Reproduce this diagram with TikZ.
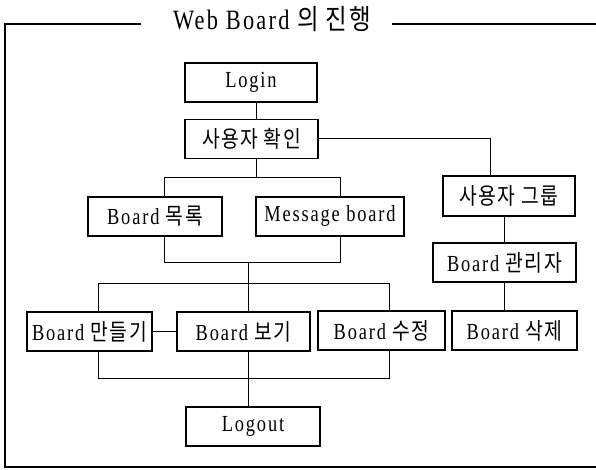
\documentclass[tikz,border=0pt]{standalone}
\usepackage{fontspec}
\setmainfont{Liberation Serif}[FakeStretch=0.8, LetterSpace=8]
\newfontfamily\krfont{Noto Sans CJK KR}[FakeStretch=0.84, LetterSpace=6]
\newcommand\ko[1]{{\krfont #1}}
\usetikzlibrary{calc}
\begin{document}
\begin{tikzpicture}[x=1pt,y=-1pt,
  box/.style={draw, line width=1.6pt, inner sep=0pt, minimum height=39pt,
    font=\fontsize{23}{23}\selectfont},
  conn/.style={line width=1pt},
  frame/.style={line width=1.4pt}]
\useasboundingbox (0,0) rectangle (596,470);
% frame and title
\node[inner sep=0pt, font=\fontsize{28}{28}\selectfont] (title) at (272,19) {Web Board \ko{의 진행}};
\coordinate (tl) at (5,24);
\coordinate (tla) at (141,24);
\coordinate (tra) at (392,24);
\coordinate (tr) at (596,24);
\coordinate (bl) at (5,467);
\coordinate (br) at (596,467);
\draw[frame] (tla) -- (tl) -- (bl) -- (br);
\draw[frame] (tra) -- (tr);
% boxes
\node[box, minimum width=132pt] (login) at (251,82.5) {Login};
\node[box, minimum width=133pt] (check) at (251.5,139) {\ko{사용자 확인}};
\node[box, minimum width=132pt, minimum height=40pt] (group) at (509,196) {\ko{사용자 그룹}};
\node[box, minimum width=134pt] (list) at (155,216.5) {Board \ko{목록}};
\node[box, minimum width=148pt] (msg) at (330,216.5) {Message board};
\node[box, minimum width=143pt] (admin) at (504.5,262.5) {Board \ko{관리자}};
\node[box, minimum width=125pt] (make) at (89.5,331.5) {Board \ko{만들기}};
\node[box, minimum width=133pt] (view) at (243.5,331.5) {Board \ko{보기}};
\node[box, minimum width=127pt] (edit) at (381.5,330.5) {Board \ko{수정}};
\node[box, minimum width=125pt] (del) at (514.5,330.5) {Board \ko{삭제}};
\node[box, minimum width=134pt] (logout) at (253,426.5) {Logout};
% bus coordinates
\coordinate (b1l) at (164,178);
\coordinate (b1r) at (340,178);
\coordinate (b2l) at (164,262);
\coordinate (b2r) at (340,262);
\coordinate (b3l) at (98,283);
\coordinate (b3r) at (389,283);
\coordinate (b4l) at (98,378);
\coordinate (b4r) at (389,378);
% connectors
\draw[conn] (login.south -| 256,0) -- (check.north -| 256,0);
\draw[conn] (check.east) -| (490,0 |- group.north);
\draw[conn] (check.south -| 256,0) -- (256,178);
\draw[conn] (list.north -| b1l) -- (b1l) -- (b1r) -- (msg.north -| b1r);
\draw[conn] (list.south -| b2l) -- (b2l) -- (b2r) -- (msg.south -| b2r);
\draw[conn] (248,262) -- (view.north -| 248,0);
\draw[conn] (make.north -| b3l) -- (b3l) -- (b3r) -- (edit.north -| b3r);
\draw[conn] (make.east) -- (view.west);
\draw[conn] (make.south -| b4l) -- (b4l) -- (b4r) -- (edit.south -| b4r);
\draw[conn] (view.south -| 248,0) -- (logout.north -| 248,0);
\draw[conn] (group.south -| 504,0) -- (admin.north -| 504,0);
\draw[conn] (admin.south -| 504,0) -- (del.north -| 504,0);
\end{tikzpicture}
\end{document}
